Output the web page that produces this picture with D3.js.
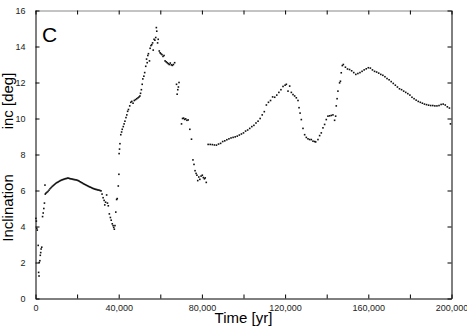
<!DOCTYPE html>
<html>
<head>
<meta charset="utf-8">
<script src="https://cdn.jsdelivr.net/npm/d3@7"></script>
<style>
  body { margin: 0; background: #fff; }
  svg { display: block; }
</style>
</head>
<body>
<div id="vis"></div>
<script>
// inclination samples, [time (yr), inc (deg)]
// first few kyr, scattered
const SEG_START = [[200,4.45],[400,4.3],[600,3.9],[850,3.8],[1300,2.95],[1500,1.45],[1700,1.25],
  [1800,2.0],[2100,2.1],[2300,2.4],[2500,2.55],[2700,2.75],[3000,2.85],[3400,4.55],[3700,4.75],
  [4000,5.0],[4300,5.3],[4550,6.3],[4700,5.8]];

// smooth arc up to ~32 kyr
const SEG_ARC = [[5000,5.85],[5500,5.9],[6000,5.95],[6500,6.02],[7000,6.1],[7500,6.16],[8000,6.22],
  [8500,6.27],[9000,6.32],[9500,6.37],[10000,6.42],[10500,6.45],[11000,6.48],[11500,6.52],
  [12000,6.55],[12500,6.58],[13000,6.6],[13500,6.62],[14000,6.64],[14500,6.66],[15000,6.67],
  [15500,6.69],[16000,6.68],[16500,6.66],[17000,6.65],[17500,6.64],[18000,6.62],[18500,6.61],
  [19000,6.6],[19500,6.59],[20000,6.57],[20500,6.55],[21000,6.52],[21500,6.48],[22000,6.45],
  [22500,6.42],[23000,6.38],[23500,6.35],[24000,6.32],[24500,6.29],[25000,6.26],[25500,6.23],
  [26000,6.2],[26500,6.18],[27000,6.15],[27500,6.12],[28000,6.1],[28500,6.08],[29000,6.06],
  [29500,6.05],[30000,6.03],[30500,6.02],[31000,6.0],[31500,5.98]];

// dip near 38 kyr
const SEG_DIP = [[32000,5.8],[32500,5.6],[33000,5.45],[33300,5.2],[33700,5.35],[34200,5.75],
  [34600,5.3],[35000,5.15],[35500,4.7],[36000,4.5],[36400,4.35],[36900,4.15],[37300,4.05],
  [37600,3.95],[37900,3.85],[38200,4.05],[38600,4.8],[39000,5.5],[39300,5.55],[39800,6.25]];

// steep climb, peak at ~58 kyr and the fall to ~82 kyr
const SEG_PEAK = [[40100,6.9],[40200,8.05],[40400,8.3],[40600,8.6],[41000,9.1],[41400,9.25],
  [41700,9.4],[42200,9.55],[42600,9.7],[43000,9.85],[43500,10.05],[43900,10.2],[44300,10.4],
  [44700,10.5],[45300,10.7],[45800,10.9],[46300,10.95],[46900,10.85],[47500,11.0],[48100,11.05],
  [48700,11.1],[49300,11.15],[49800,11.2],[50200,11.25],[50500,11.4],[50900,11.6],[51300,11.9],
  [51600,12.2],[52100,12.35],[52500,12.55],[53000,12.9],[53400,13.3],[53700,13.1],[54000,13.5],
  [54300,13.6],[54800,13.2],[55100,13.9],[55500,14.05],[55900,14.1],[56300,14.2],[56600,13.8],
  [57000,14.4],[57400,14.35],[57800,14.5],[58100,15.05],[58300,14.85],[58700,14.2],[59000,14.4],
  [59500,13.75],[59900,13.65],[60300,13.6],[60800,13.55],[61300,13.45],[61800,13.5],[62300,13.2],
  [62800,13.15],[63300,13.1],[63800,13.05],[64300,13.0],[64800,13.08],[65300,12.98],[65800,12.95],
  [66300,13.0],[66900,13.1],[67800,11.9],[68100,11.35],[68400,11.6],[68700,11.75],[69000,12.0],
  [70200,9.7],[70700,10.0],[71200,10.02],[71700,9.95],[72200,9.98],[72800,9.9],[73400,9.92],
  [74200,9.4],[75000,8.85],[75700,7.7],[76200,7.45],[76700,7.1],[77200,6.95],[77600,6.85],
  [78000,6.55],[78500,6.75],[79000,6.62],[79600,6.8],[80200,6.85],[80700,6.72],[81200,6.65],
  [81600,6.7],[82100,6.45]];

// second hump, 83-147 kyr
const SEG_HUMP = [[83000,8.56],[84000,8.56],[85000,8.55],[86000,8.53],[87000,8.52],[88000,8.58],
  [89000,8.62],[90000,8.72],[91000,8.76],[92000,8.82],[93000,8.87],[94000,8.92],[95000,8.95],
  [96000,8.98],[97000,9.02],[98000,9.08],[99000,9.14],[100000,9.2],[101000,9.3],[102000,9.36],
  [103000,9.45],[104000,9.55],[105000,9.62],[106000,9.75],[107000,9.85],[108000,10.0],
  [109000,10.2],[110000,10.38],[111000,10.75],[112000,10.9],[113000,11.0],[114000,11.2],
  [115000,11.18],[116000,11.3],[117000,11.45],[118000,11.6],[119000,11.78],[120000,11.85],
  [120600,11.9],[121400,11.52],[122200,11.8],[123000,11.45],[123800,11.33],[124600,11.25],
  [125400,11.15],[126200,11.0],[126700,10.6],[127200,10.3],[127800,9.94],[128600,9.45],
  [129400,9.1],[130200,8.95],[131000,8.87],[131800,8.83],[132600,8.83],[133400,8.74],
  [134200,8.72],[134700,8.7],[135800,8.83],[136600,9.05],[137400,9.2],[138200,9.48],
  [139000,9.67],[139800,9.94],[140600,10.13],[141400,10.15],[142200,10.17],[143000,10.2],
  [143800,9.9],[144300,10.13],[144600,10.7],[145000,11.1],[145400,11.52],[146200,11.98],
  [146600,12.07],[147000,12.54],[147500,12.94]];

// broad top and slow decline to 200 kyr
const SEG_LATE = [[148000,13.0],[149000,12.85],[150000,12.75],[151000,12.72],[152000,12.65],
  [153000,12.55],[154000,12.45],[155000,12.5],[156000,12.55],[157000,12.62],[158000,12.7],
  [159000,12.76],[160000,12.82],[161000,12.8],[162000,12.7],[163000,12.62],[164000,12.58],
  [165000,12.52],[166000,12.45],[167000,12.4],[168000,12.32],[169000,12.22],[170000,12.15],
  [171000,12.05],[172000,11.95],[173000,11.85],[174000,11.75],[175000,11.65],[176000,11.6],
  [177000,11.52],[178000,11.45],[179000,11.38],[180000,11.3],[181000,11.18],[182000,11.1],
  [183000,11.02],[184000,10.95],[185000,10.9],[186000,10.85],[187000,10.8],[188000,10.77],
  [189000,10.74],[190000,10.72],[191000,10.72],[192000,10.7],[193000,10.7],[194000,10.72],
  [195000,10.78],[196000,10.8],[197000,10.75],[198000,10.65],[199000,10.58],[199500,9.7]];

// tick values
const X_TICKS = [0, 20000, 40000, 60000, 80000, 100000, 120000, 140000, 160000, 180000, 200000];
const X_LABELS = [0, 40000, 80000, 120000, 160000, 200000];
const Y_TICKS = [0, 2, 4, 6, 8, 10, 12, 14, 16];

// dimensions of the frame
const FRAME_WIDTH = 467;
const FRAME_HEIGHT = 327;
const PLOT = {left: 35.5, right: 451.5, top: 10.5, bottom: 298.5};
const FONT = "'Liberation Sans', Arial, Helvetica, sans-serif";

const FRAME = d3.select("#vis")
  .append("svg")
  .attr("width", FRAME_WIDTH)
  .attr("height", FRAME_HEIGHT)
  .style("font-family", FONT);

// scales
const X_SCALE = d3.scaleLinear().domain([0, 200000]).range([PLOT.left, PLOT.right]);
const Y_SCALE = d3.scaleLinear().domain([0, 16]).range([PLOT.bottom, PLOT.top]);

const fmt = d3.format(",");

// bottom axis with labels every 40,000
const xAxis = FRAME.append("g")
  .attr("transform", "translate(0," + PLOT.bottom + ")")
  .call(d3.axisBottom(X_SCALE)
    .tickValues(X_TICKS)
    .tickSizeInner(-4).tickSizeOuter(0)
    .tickPadding(6)
    .tickFormat((d) => X_LABELS.includes(d) ? fmt(d) : ""));

// top axis, ticks only
const xTop = FRAME.append("g")
  .attr("transform", "translate(0," + PLOT.top + ")")
  .call(d3.axisTop(X_SCALE)
    .tickValues(X_TICKS)
    .tickSizeInner(-4).tickSizeOuter(0)
    .tickFormat(""));

// left axis
const yAxis = FRAME.append("g")
  .attr("transform", "translate(" + PLOT.left + ",0)")
  .call(d3.axisLeft(Y_SCALE)
    .tickValues(Y_TICKS)
    .tickSizeInner(-4).tickSizeOuter(0)
    .tickPadding(10));

// right axis, ticks only
const yRight = FRAME.append("g")
  .attr("transform", "translate(" + PLOT.right + ",0)")
  .call(d3.axisRight(Y_SCALE)
    .tickValues(Y_TICKS)
    .tickSizeInner(-4).tickSizeOuter(0)
    .tickFormat(""));

[xAxis, xTop, yAxis, yRight].forEach((g) => {
  g.attr("font-family", FONT).attr("font-size", 9).attr("color", "#000");
  g.selectAll("text").attr("fill", "#222");
});
xTop.select(".domain").attr("stroke", "#888");

// points
const ALL_POINTS = [].concat(SEG_START, SEG_ARC, SEG_DIP, SEG_PEAK, SEG_HUMP, SEG_LATE);

FRAME.append("g")
  .selectAll("rect")
  .data(ALL_POINTS)
  .enter()
  .append("rect")
    .attr("x", (d) => X_SCALE(d[0]) - 0.8)
    .attr("y", (d) => Y_SCALE(d[1]) - 0.8)
    .attr("width", 1.6)
    .attr("height", 1.6)
    .attr("fill", "#111");

// panel letter
FRAME.append("text")
  .attr("x", 42)
  .attr("y", 41.5)
  .attr("font-size", 21)
  .text("C");

// axis titles (x title pulled up a little so its descenders stay on the page)
FRAME.append("text")
  .attr("x", 243.5)
  .attr("y", 323)
  .attr("text-anchor", "middle")
  .attr("font-size", 15)
  .text("Time [yr]");

FRAME.append("text")
  .attr("transform", "translate(13,208) rotate(-90)")
  .attr("text-anchor", "middle")
  .attr("font-size", 15)
  .text("Inclination");

FRAME.append("text")
  .attr("transform", "translate(13,101) rotate(-90)")
  .attr("text-anchor", "middle")
  .attr("font-size", 15)
  .text("inc [deg]");
</script>
</body>
</html>
